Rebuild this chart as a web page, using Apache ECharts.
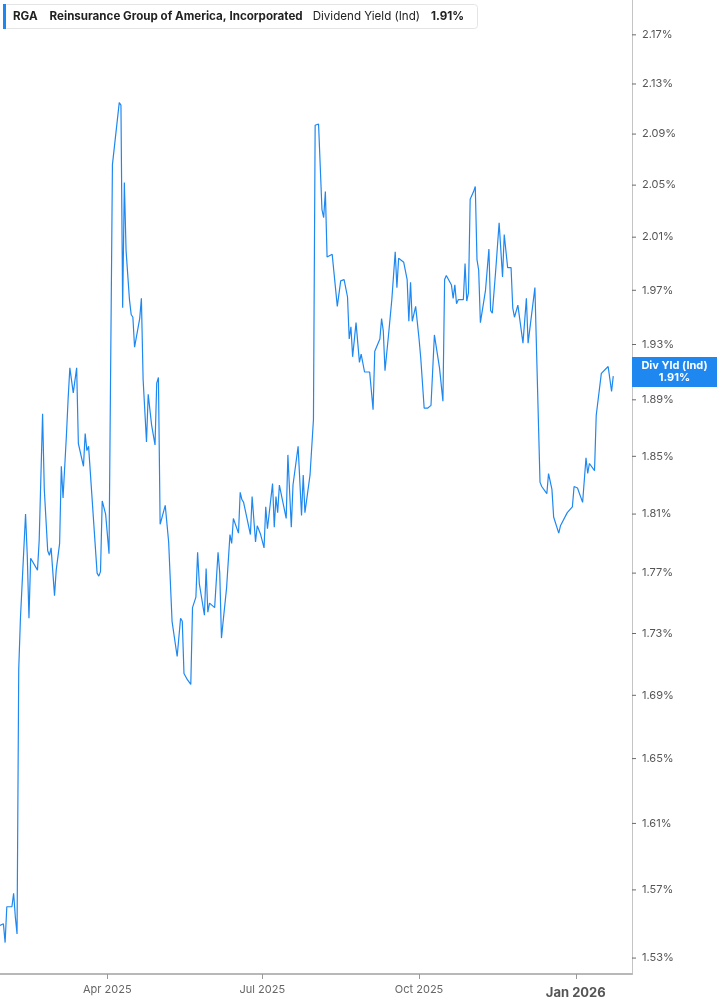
<!DOCTYPE html>
<html>
<head>
<meta charset="utf-8">
<script src="https://cdn.jsdelivr.net/npm/echarts@6.0.0/dist/echarts.min.js"></script>
<style>
html,body{margin:0;padding:0;background:#fff;}
#c{width:717px;height:1005px;}
</style>
</head>
<body>
<div id="c"></div>
<script>
const dates = [
'2025-01-28','2025-01-29','2025-01-30','2025-01-31','2025-02-01','2025-02-04','2025-02-05','2025-02-06','2025-02-07','2025-02-08',
'2025-02-09','2025-02-10','2025-02-12','2025-02-13','2025-02-14','2025-02-15','2025-02-19','2025-02-20','2025-02-22','2025-02-23',
'2025-02-25','2025-02-26','2025-02-27','2025-03-01','2025-03-02','2025-03-04','2025-03-05','2025-03-06','2025-03-08','2025-03-09',
'2025-03-10','2025-03-12','2025-03-14','2025-03-15','2025-03-18','2025-03-19','2025-03-20','2025-03-21','2025-03-22','2025-03-26',
'2025-03-27','2025-03-28','2025-03-29','2025-03-31','2025-04-02','2025-04-04','2025-04-08','2025-04-09','2025-04-10','2025-04-11',
'2025-04-12','2025-04-14','2025-04-15','2025-04-16','2025-04-17','2025-04-20','2025-04-21','2025-04-22','2025-04-24','2025-04-25',
'2025-04-27','2025-04-29','2025-04-30','2025-05-01','2025-05-02','2025-05-05','2025-05-07','2025-05-09','2025-05-12','2025-05-14',
'2025-05-15','2025-05-16','2025-05-18','2025-05-20','2025-05-21','2025-05-23','2025-05-24','2025-05-25','2025-05-28','2025-05-29',
'2025-05-30','2025-05-31','2025-06-03','2025-06-05','2025-06-06','2025-06-07','2025-06-08','2025-06-10','2025-06-12','2025-06-13',
'2025-06-14','2025-06-17','2025-06-18','2025-06-19','2025-06-20','2025-06-24','2025-06-25','2025-06-27','2025-06-28','2025-06-30',
'2025-07-02','2025-07-03','2025-07-04','2025-07-07','2025-07-08','2025-07-09','2025-07-10','2025-07-11','2025-07-15','2025-07-16',
'2025-07-18','2025-07-19','2025-07-22','2025-07-24','2025-07-25','2025-07-26','2025-07-29','2025-07-31','2025-08-01','2025-08-03',
'2025-08-04','2025-08-05','2025-08-06','2025-08-07','2025-08-08','2025-08-11','2025-08-12','2025-08-14','2025-08-16','2025-08-18',
'2025-08-20','2025-08-21','2025-08-22','2025-08-23','2025-08-25','2025-08-27','2025-08-28','2025-08-30','2025-09-02','2025-09-04',
'2025-09-05','2025-09-08','2025-09-09','2025-09-10','2025-09-11','2025-09-13','2025-09-15','2025-09-17','2025-09-18','2025-09-19',
'2025-09-22','2025-09-24','2025-09-25','2025-09-26','2025-09-27','2025-09-29','2025-10-01','2025-10-02','2025-10-04','2025-10-06',
'2025-10-07','2025-10-08','2025-10-10','2025-10-13','2025-10-15','2025-10-16','2025-10-17','2025-10-20','2025-10-21','2025-10-22',
'2025-10-23','2025-10-24','2025-10-27','2025-10-28','2025-10-29','2025-10-30','2025-10-31','2025-11-02','2025-11-03','2025-11-04',
'2025-11-05','2025-11-06','2025-11-09','2025-11-11','2025-11-12','2025-11-13','2025-11-15','2025-11-17','2025-11-19','2025-11-20',
'2025-11-22','2025-11-24','2025-11-25','2025-11-26','2025-11-28','2025-12-01','2025-12-02','2025-12-03','2025-12-04','2025-12-05',
'2025-12-08','2025-12-11','2025-12-12','2025-12-15','2025-12-16','2025-12-18','2025-12-19','2025-12-22','2025-12-23','2025-12-24',
'2025-12-27','2025-12-30','2025-12-31','2026-01-02','2026-01-05','2026-01-07','2026-01-08','2026-01-09','2026-01-12','2026-01-13',
'2026-01-14','2026-01-16','2026-01-20','2026-01-21','2026-01-22','2026-01-23'
];

const yieldValues = [
1.549,1.548,1.550,1.539,1.560,1.560,1.568,1.554,1.544,1.707,
1.740,1.763,1.810,1.782,1.740,1.780,1.772,1.792,1.880,1.827,
1.785,1.782,1.787,1.755,1.772,1.790,1.843,1.821,1.865,1.891,
1.913,1.895,1.913,1.859,1.843,1.866,1.854,1.857,1.856,1.770,
1.768,1.771,1.819,1.810,1.783,2.066,2.115,2.113,1.957,2.052,
2.000,1.963,1.952,1.950,1.928,1.949,1.964,1.905,1.860,1.894,
1.872,1.858,1.902,1.906,1.803,1.816,1.791,1.738,1.715,1.740,
1.738,1.704,1.700,1.697,1.747,1.754,1.784,1.763,1.742,1.773,
1.744,1.750,1.747,1.784,1.770,1.727,1.738,1.760,1.796,1.790,
1.807,1.797,1.825,1.820,1.818,1.796,1.822,1.791,1.802,1.796,
1.787,1.815,1.800,1.831,1.801,1.822,1.811,1.830,1.807,1.851,
1.801,1.830,1.857,1.809,1.837,1.811,1.837,1.876,2.097,2.098,
2.099,2.031,2.025,2.045,1.995,1.997,1.997,1.958,1.977,1.978,
1.965,1.934,1.943,1.921,1.946,1.917,1.923,1.910,1.910,1.883,
1.925,1.934,1.949,1.940,1.911,1.936,1.963,1.999,1.972,1.994,
1.991,1.978,1.947,1.976,1.947,1.958,1.934,1.920,1.884,1.884,
1.883,1.886,1.937,1.913,1.889,1.978,1.981,1.974,1.964,1.974,
1.960,1.963,1.963,1.990,1.962,1.968,2.039,2.045,2.049,1.993,
1.985,1.946,1.970,2.001,1.955,1.953,1.985,2.021,1.980,2.012,
1.987,1.987,1.957,1.950,1.959,1.931,1.931,1.964,1.931,1.930,
1.972,1.832,1.829,1.824,1.838,1.827,1.808,1.797,1.802,1.802,
1.811,1.815,1.829,1.828,1.818,1.849,1.838,1.845,1.840,1.879,
1.879,1.909,1.914,1.913,1.896,1.907
];

const yTicks = [1.53,1.57,1.61,1.65,1.69,1.73,1.77,1.81,1.85,1.89,1.93,1.97,2.01,2.05,2.09,2.13,2.17];
const xRange = ['2025-01-28','2026-02-03'];
const yRange = [1.5208, 2.1988];
const ticker = 'RGA';
const company = 'Reinsurance Group of America, Incorporated';
const seriesName = 'Dividend Yield (Ind)';
const shortName = 'Div Yld (Ind)';

const lineColor = '#1e88f0';
const lastValue = yieldValues[yieldValues.length - 1];
const lastText = lastValue.toFixed(2) + '%';
const monthNames = ['Jan','Feb','Mar','Apr','May','Jun','Jul','Aug','Sep','Oct','Nov','Dec'];
const FONT = 'Inter';
const DAY = 86400000;

const chart = echarts.init(document.getElementById('c'), null, {renderer: 'canvas'});

const tickLabelRich = {
  tk: {width: 4, height: 1, backgroundColor: '#6a6a6a'},
  v: {color: '#555', fontSize: 11, fontFamily: FONT, padding: [0, 0, 0, 6]}
};

const markData = yTicks.map(v => ({
  yAxis: v,
  label: {
    show: true,
    position: 'end',
    distance: 0,
    color: '#555',
    formatter: '{tk|}{v|' + v.toFixed(2) + '%}',
    rich: tickLabelRich
  }
}));
markData.push({
  yAxis: lastValue,
  label: {
    show: true,
    position: 'end',
    distance: 0,
    color: '#fff',
    backgroundColor: lineColor,
    padding: [3, 0, 3, 0],
    formatter: '{a|' + shortName + '}\n{a|' + lastText + '}',
    rich: {
      a: {width: 85, align: 'center', color: '#fff', fontWeight: 'bold', fontSize: 11, lineHeight: 12, fontFamily: FONT}
    }
  }
});

const TS = 11.6;
const option = {
  animation: false,
  textStyle: {fontFamily: FONT},
  title: {
    left: 3,
    top: 4,
    padding: [0, 14, 0, 0],
    backgroundColor: '#fff',
    borderColor: '#e4e4e4',
    borderWidth: 1,
    borderRadius: 3,
    text: '{bar|}{tk|' + ticker + '}{nm|' + company + '}{sr|' + seriesName + '}{val|' + lastText + '}',
    textStyle: {
      rich: {
        bar: {width: 3, height: 25, backgroundColor: lineColor},
        tk: {fontFamily: FONT, fontSize: TS, fontWeight: 'bold', color: '#222', padding: [0, 0, 0, 7]},
        nm: {fontFamily: FONT, fontSize: TS, fontWeight: 'bold', color: '#222', padding: [0, 0, 0, 12]},
        sr: {fontFamily: FONT, fontSize: TS, fontWeight: 'normal', color: '#222', padding: [0, 0, 0, 10]},
        val: {fontFamily: FONT, fontSize: TS, fontWeight: 'bold', color: '#222', padding: [0, 0, 0, 11]}
      }
    }
  },
  grid: {left: 0, right: 85, top: 0, bottom: 31},
  xAxis: {
    type: 'time',
    min: xRange[0],
    max: xRange[1],
    splitNumber: 4,
    minInterval: 85 * DAY,
    maxInterval: 95 * DAY,
    axisLine: {show: true, lineStyle: {color: '#b8b8b8', width: 2}},
    axisTick: {show: true, length: 5, lineStyle: {color: '#999', width: 1}},
    splitLine: {show: false},
    minorTick: {show: false},
    axisLabel: {
      margin: 10,
      color: '#666',
      fontSize: 11,
      fontFamily: FONT,
      showMinLabel: false,
      showMaxLabel: false,
      formatter: function (val) {
        const d = new Date(val);
        const m = d.getMonth();
        if (m % 3 !== 0 || d.getDate() !== 1) return '';
        const txt = monthNames[m] + ' ' + d.getFullYear();
        return m === 0 ? '{y|' + txt + '}' : txt;
      },
      rich: {
        y: {fontWeight: 'bold', fontSize: 13, color: '#555', fontFamily: FONT, padding: [3, 0, 0, 0]}
      }
    }
  },
  yAxis: {
    type: 'log',
    logBase: 10,
    position: 'right',
    min: yRange[0],
    max: yRange[1],
    axisLine: {show: true, lineStyle: {color: '#c4c4c4', width: 1}},
    axisTick: {show: false},
    axisLabel: {show: false},
    splitLine: {show: false},
    minorTick: {show: false},
    minorSplitLine: {show: false}
  },
  series: [{
    name: seriesName,
    type: 'line',
    data: dates.map((d, i) => [d, yieldValues[i]]),
    showSymbol: false,
    symbol: 'none',
    lineStyle: {color: lineColor, width: 1.2},
    itemStyle: {color: lineColor},
    markLine: {
      silent: true,
      symbol: 'none',
      animation: false,
      lineStyle: {color: 'rgba(0,0,0,0)', width: 1, type: 'solid'},
      emphasis: {disabled: true},
      data: markData
    }
  }]
};

chart.setOption(option);
</script>
</body>
</html>
